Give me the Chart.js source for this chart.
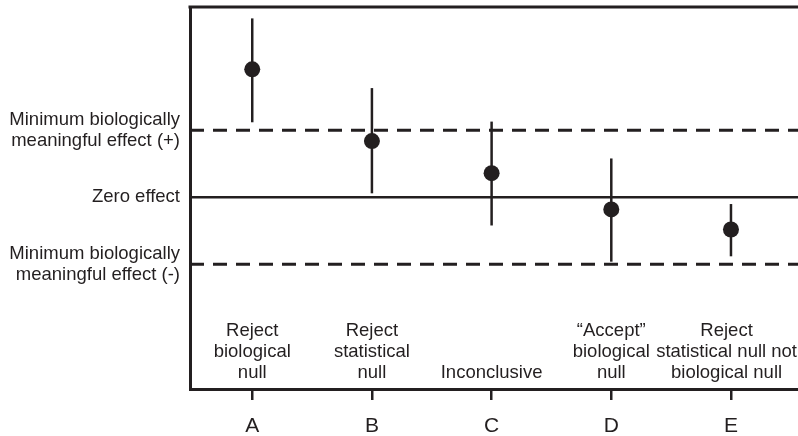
<!DOCTYPE html>
<html>
<head>
<meta charset="utf-8">
<script src="https://cdn.jsdelivr.net/npm/chart.js@4/dist/chart.umd.min.js"></script>
<style>
html,body{margin:0;padding:0;background:#fff;}
canvas{display:block;}
</style>
</head>
<body>
<canvas id="c" width="798" height="436"></canvas>
<script>
const categories = ['A', 'B', 'C', 'D', 'E'];
const descriptions = [
  ['Reject', 'biological', 'null'],
  ['Reject', 'statistical', 'null'],
  ['Inconclusive'],
  ['\u201CAccept\u201D', 'biological', 'null'],
  ['Reject', 'statistical null not', 'biological null']
];
const estimates = [1.91, 0.84, 0.36, -0.18, -0.48];
const lowerCI = [1.12, 0.06, -0.42, -0.96, -0.88];
const upperCI = [2.67, 1.63, 1.13, 0.58, -0.10];
const refValues = [-1, 0, 1];
const refLabels = [
  ['Minimum biologically', 'meaningful effect (-)'],
  'Zero effect',
  ['Minimum biologically', 'meaningful effect (+)']
];
const refDashed = [true, false, true];

const INK = '#231f20';
const FONT = "'Liberation Sans', Arial, Helvetica, sans-serif";

const overlay = {
  id: 'overlay',
  beforeDatasetsDraw(chart) {
    const {ctx, chartArea, scales: {x, y}} = chart;
    ctx.save();
    // top frame line
    ctx.strokeStyle = INK;
    ctx.lineWidth = 3;
    ctx.beginPath();
    ctx.moveTo(chartArea.left - 1.5, chartArea.top);
    ctx.lineTo(chartArea.right, chartArea.top);
    ctx.stroke();
    // reference lines
    refValues.forEach((v, i) => {
      const py = y.getPixelForValue(v);
      ctx.lineWidth = refDashed[i] ? 3 : 2.5;
      ctx.setLineDash(refDashed[i] ? [14, 9] : []);
      ctx.beginPath();
      ctx.moveTo(chartArea.left, py);
      ctx.lineTo(chartArea.right, py);
      ctx.stroke();
    });
    ctx.setLineDash([]);
    // error bars
    ctx.lineWidth = 2.5;
    categories.forEach((c, i) => {
      const px = x.getPixelForValue(i);
      ctx.beginPath();
      ctx.moveTo(px, y.getPixelForValue(upperCI[i]));
      ctx.lineTo(px, y.getPixelForValue(lowerCI[i]));
      ctx.stroke();
    });
    // description labels (kept inside the plot area)
    ctx.fillStyle = INK;
    ctx.font = '18.5px ' + FONT;
    ctx.textAlign = 'center';
    ctx.textBaseline = 'middle';
    const baseY = y.getPixelForValue(-2.62);
    descriptions.forEach((lines, i) => {
      let px = x.getPixelForValue(i);
      const w = Math.max(...lines.map(t => ctx.measureText(t).width));
      if (px + w / 2 > chartArea.right - 1) px = chartArea.right - 1 - w / 2;
      lines.forEach((t, j) => {
        ctx.fillText(t, px, baseY - (lines.length - 1 - j) * 21);
      });
    });
    ctx.restore();
  }
};

new Chart(document.getElementById('c'), {
  type: 'scatter',
  data: {
    datasets: [{
      data: estimates.map((v, i) => ({x: i, y: v})),
      pointRadius: 8,
      pointHoverRadius: 8,
      backgroundColor: INK,
      borderColor: INK,
      borderWidth: 0
    }]
  },
  options: {
    responsive: false,
    animation: false,
    devicePixelRatio: 1,
    layout: {autoPadding: false, padding: {top: 7, right: 0, left: 0, bottom: 0}},
    plugins: {legend: {display: false}, tooltip: {enabled: false}},
    scales: {
      x: {
        type: 'linear',
        min: -0.52,
        max: 4.56,
        afterBuildTicks(s) { s.ticks = categories.map((c, i) => ({value: i})); },
        afterFit(s) { s.height = 47; s.paddingLeft = 0; s.paddingRight = 0; },
        ticks: {
          callback: (v) => categories[v],
          color: INK,
          font: {family: FONT, size: 21},
          padding: 14,
          maxRotation: 0,
          autoSkip: false
        },
        grid: {display: true, drawOnChartArea: false, drawTicks: true, tickLength: 11, lineWidth: 2.5, color: INK},
        border: {display: true, width: 3, color: INK}
      },
      y: {
        type: 'linear',
        min: -2.86,
        max: 2.84,
        afterBuildTicks(s) { s.ticks = refValues.map(v => ({value: v})); },
        afterFit(s) { s.width = 190; s.paddingTop = 0; s.paddingBottom = 0; },
        ticks: {
          callback: (v) => refLabels[refValues.indexOf(v)],
          color: INK,
          font: {family: FONT, size: 18.5, lineHeight: 1.135},
          padding: 10,
          autoSkip: false
        },
        grid: {display: false, drawTicks: false},
        border: {display: true, width: 3, color: INK}
      }
    }
  },
  plugins: [overlay]
});
</script>
</body>
</html>
